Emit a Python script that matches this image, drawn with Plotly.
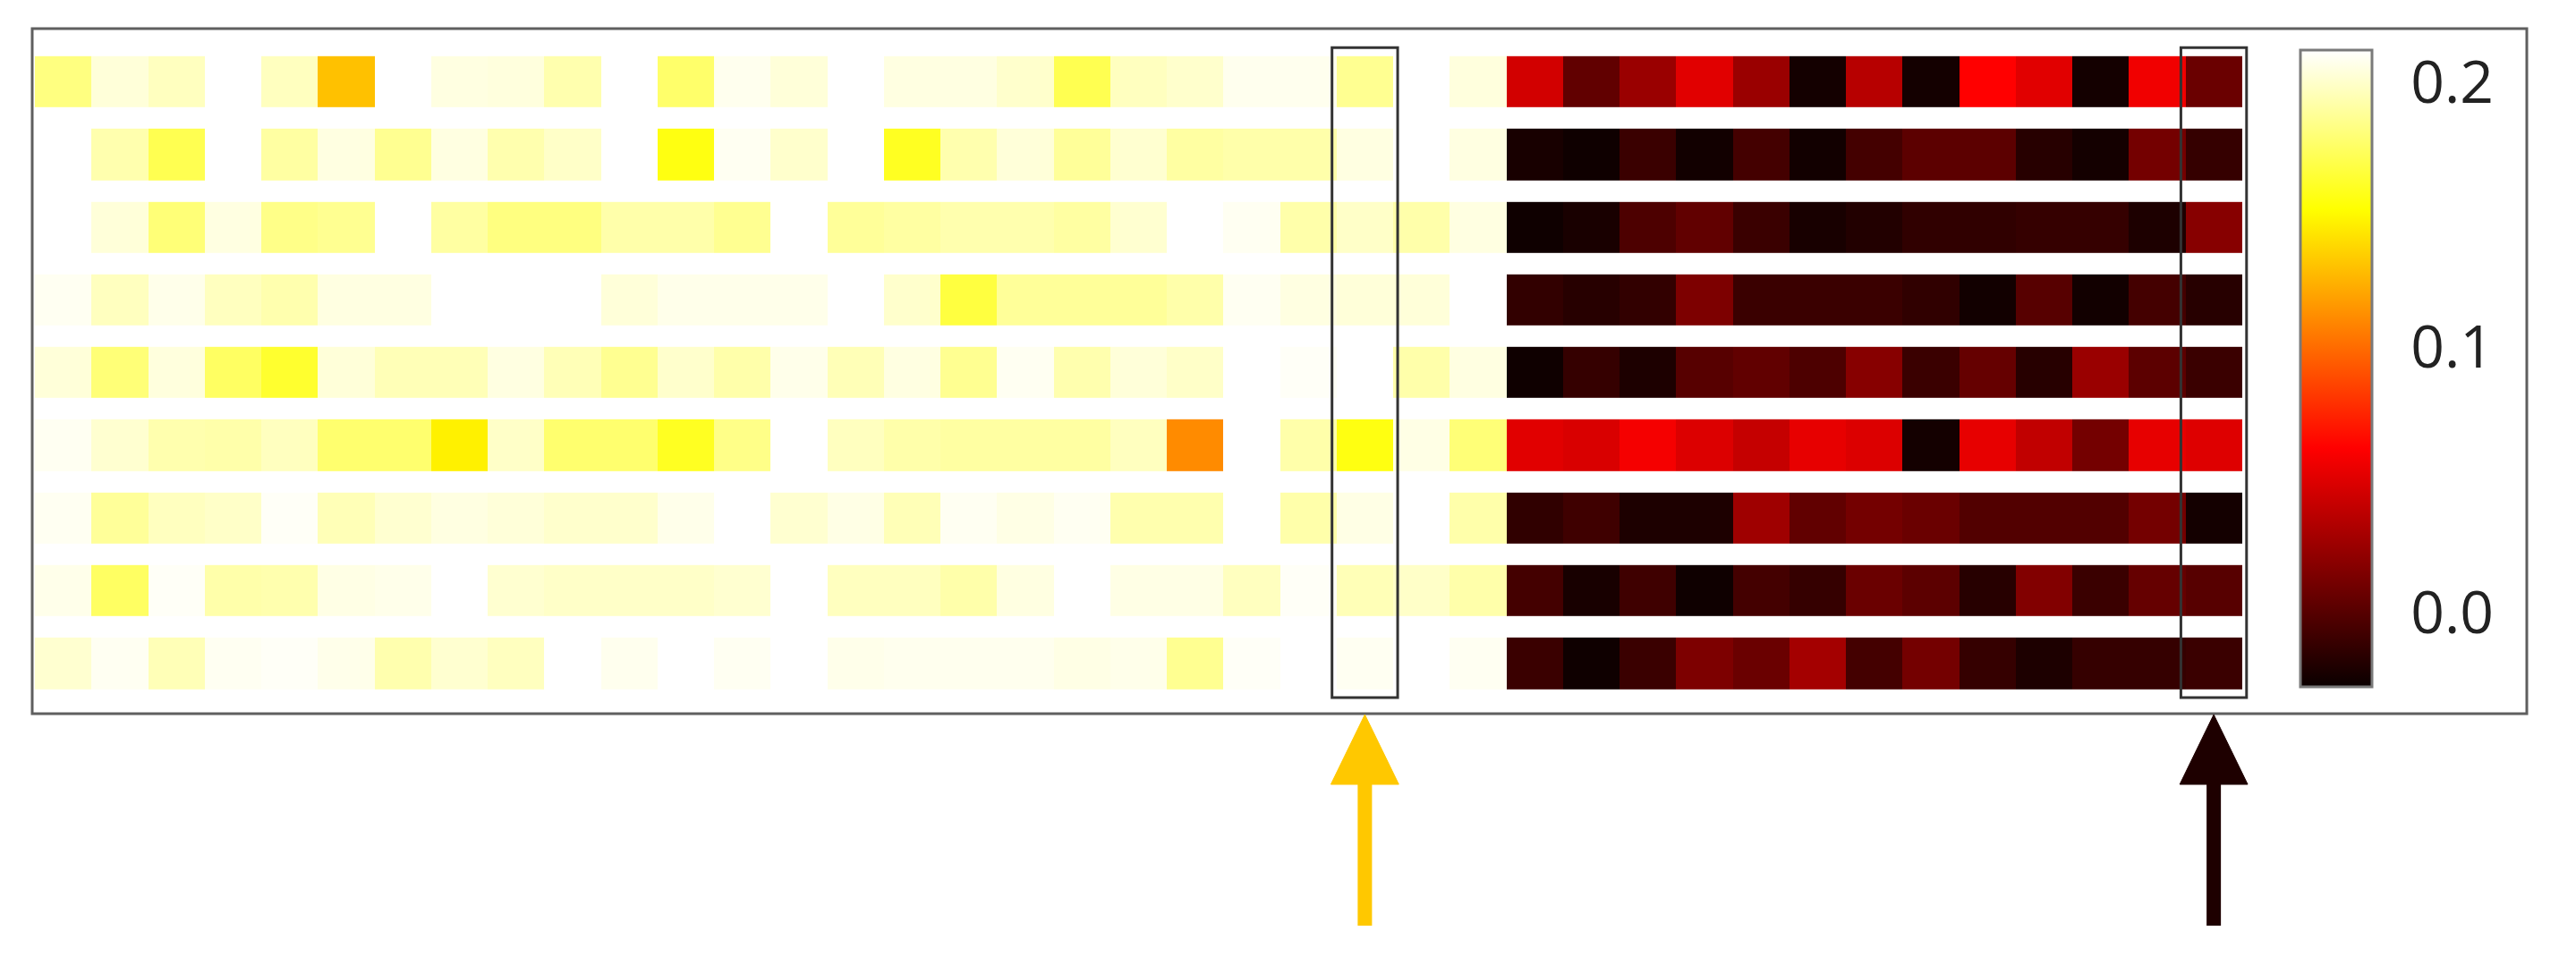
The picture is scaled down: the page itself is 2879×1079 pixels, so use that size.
import plotly.graph_objects as go

# ---------------- data ----------------
col_ids = list(range(39))          # 26 pale columns + 13 dark columns
row_ids = list(range(9))

r1 = [0.182, 0.203, 0.197, 0.212, 0.197, 0.130, 0.212, 0.205, 0.204, 0.193, 0.212, 0.177, 0.208,
      0.203, 0.212, 0.205, 0.205, 0.200, 0.171, 0.197, 0.200, 0.208, 0.208, 0.186, 0.212, 0.204,
      0.0454, 0.0038, 0.0249, 0.0511, 0.0249, -0.0245, 0.0355, -0.0245, 0.0620, 0.0511, -0.0245, 0.0567, 0.0073]
r2 = [0.212, 0.193, 0.171, 0.212, 0.190, 0.205, 0.186, 0.205, 0.193, 0.199, 0.212, 0.156, 0.209,
      0.200, 0.212, 0.160, 0.193, 0.203, 0.188, 0.201, 0.190, 0.192, 0.192, 0.205, 0.212, 0.205,
      -0.0227, -0.0262, -0.0104, -0.0252, -0.0068, -0.0252, -0.0068, 0.0020, 0.0020, -0.0174, -0.0245, 0.0108, -0.0121]
r3 = [0.212, 0.203, 0.180, 0.205, 0.184, 0.186, 0.212, 0.190, 0.182, 0.182, 0.192, 0.192, 0.186,
      0.212, 0.188, 0.190, 0.193, 0.193, 0.190, 0.201, 0.212, 0.209, 0.192, 0.199, 0.192, 0.205,
      -0.0262, -0.0224, -0.0033, 0.0038, -0.0104, -0.0227, -0.0192, -0.0139, -0.0139, -0.0121, -0.0121, -0.0209, 0.0179]
r4 = [0.209, 0.197, 0.207, 0.197, 0.193, 0.205, 0.205, 0.212, 0.212, 0.212, 0.203, 0.207, 0.207,
      0.207, 0.212, 0.200, 0.167, 0.188, 0.188, 0.188, 0.192, 0.209, 0.205, 0.203, 0.203, 0.212,
      -0.0132, -0.0174, -0.0132, 0.0144, -0.0104, -0.0104, -0.0104, -0.0139, -0.0252, 0.0002, -0.0252, -0.0068, -0.0174]
r5 = [0.203, 0.180, 0.204, 0.175, 0.163, 0.203, 0.195, 0.195, 0.205, 0.195, 0.186, 0.200, 0.192,
      0.207, 0.195, 0.205, 0.186, 0.209, 0.193, 0.203, 0.199, 0.212, 0.210, 0.212, 0.192, 0.205,
      -0.0262, -0.0121, -0.0209, 0.0002, 0.0038, -0.0033, 0.0179, -0.0104, 0.0055, -0.0174, 0.0249, 0.0020, -0.0104]
r6 = [0.209, 0.201, 0.193, 0.192, 0.197, 0.178, 0.178, 0.147, 0.199, 0.178, 0.178, 0.160, 0.184,
      0.212, 0.197, 0.192, 0.190, 0.190, 0.190, 0.197, 0.111, 0.212, 0.192, 0.156, 0.206, 0.180,
      0.0511, 0.0482, 0.0585, 0.0490, 0.0408, 0.0532, 0.0490, -0.0245, 0.0532, 0.0391, 0.0108, 0.0532, 0.0497]
r7 = [0.209, 0.188, 0.197, 0.199, 0.210, 0.195, 0.201, 0.205, 0.203, 0.200, 0.200, 0.207, 0.212,
      0.201, 0.206, 0.195, 0.209, 0.206, 0.209, 0.193, 0.193, 0.212, 0.192, 0.206, 0.212, 0.192,
      -0.0139, -0.0086, -0.0209, -0.0209, 0.0267, 0.0038, 0.0108, 0.0073, -0.0015, -0.0015, -0.0015, 0.0108, -0.0245]
r8 = [0.207, 0.175, 0.210, 0.192, 0.193, 0.206, 0.207, 0.212, 0.201, 0.199, 0.199, 0.199, 0.201,
      0.212, 0.197, 0.197, 0.192, 0.205, 0.212, 0.206, 0.206, 0.197, 0.210, 0.195, 0.199, 0.192,
      -0.0068, -0.0227, -0.0086, -0.0262, -0.0068, -0.0121, 0.0073, 0.0020, -0.0174, 0.0161, -0.0104, 0.0055, 0.0002]
r9 = [0.201, 0.209, 0.195, 0.209, 0.210, 0.207, 0.193, 0.201, 0.197, 0.212, 0.208, 0.212, 0.209,
      0.212, 0.207, 0.208, 0.208, 0.208, 0.206, 0.207, 0.186, 0.210, 0.212, 0.209, 0.212, 0.209,
      -0.0104, -0.0262, -0.0104, 0.0144, 0.0073, 0.0285, -0.0068, 0.0108, -0.0121, -0.0209, -0.0121, -0.0121, -0.0104]

z_min, z_max = -0.028, 0.212
tick_values = [0.0, 0.05, 0.1, 0.15, 0.2]
tick_labels = ["0.0", "", "0.1", "", "0.2"]

highlight_cols = [23, 38]
arrow_colors = ["#FFC800", "#1E0000"]

# ---------------- figure ----------------
W, H = 2879, 1079
CELL = 63.25           # pixel width of one column
X0 = 39                # pixel left edge of first column

def py(px):            # pixel row -> paper y
    return 1 - px / H

def pxx(px):           # pixel column -> paper x
    return px / W

hot = [[0.0, "rgb(10,0,0)"], [0.375, "rgb(255,0,0)"],
       [0.75, "rgb(255,255,0)"], [1.0, "rgb(255,255,255)"]]

# colorbar geometry (pixels)
CB_LEFT, CB_THICK, CB_TOP, CB_LEN = 2571, 80, 56, 712

fig = go.Figure(go.Heatmap(
    z=[r1, r2, r3, r4, r5, r6, r7, r8, r9],
    x=col_ids, y=row_ids,
    zmin=z_min, zmax=z_max, colorscale=hot,
    xgap=0, ygap=24,
    hoverinfo="skip",
    colorbar=dict(
        x=pxx(CB_LEFT), xanchor="left", xpad=0,
        y=py(CB_TOP + CB_LEN / 2), yanchor="middle", ypad=0,
        len=CB_LEN, lenmode="pixels",
        thickness=CB_THICK, thicknessmode="pixels",
        outlinewidth=3, outlinecolor="#7a7a7a",
        tickvals=tick_values, ticktext=tick_labels,
        ticks="outside", ticklen=29, tickcolor="rgba(0,0,0,0)",
        tickfont=dict(family="Open Sans", size=66, color="#222222"),
    ),
))

shapes = []
# outer frame
shapes.append(dict(type="rect", xref="paper", yref="paper",
                   x0=pxx(36), x1=pxx(2824), y0=py(798), y1=py(32),
                   line=dict(color="#5f5f5f", width=3), fillcolor="rgba(0,0,0,0)", layer="above"))
for c, colr in zip(highlight_cols, arrow_colors):
    # highlight box around the column
    shapes.append(dict(type="rect", xref="x", yref="y",
                       x0=c - 0.58, x1=c + 0.58, y0=-0.47, y1=8.47,
                       line=dict(color="#333333", width=3), fillcolor="rgba(0,0,0,0)", layer="above"))
    # arrow shaft
    shapes.append(dict(type="line", xref="x", yref="paper",
                       x0=c, x1=c, y0=py(1035), y1=py(872),
                       line=dict(color=colr, width=16)))
    # arrow head
    shapes.append(dict(type="path", xref="x", yref="paper",
                       path=f"M {c-0.6},{py(877)} L {c+0.6},{py(877)} L {c},{py(799)} Z",
                       fillcolor=colr, line=dict(color=colr, width=1)))

# small inside tick marks on the colorbar's right edge
for v in tick_values:
    ypix = CB_TOP + CB_LEN - (v - z_min) / (z_max - z_min) * CB_LEN
    shapes.append(dict(type="line", xref="paper", yref="paper",
                       x0=pxx(CB_LEFT + CB_THICK - 11), x1=pxx(CB_LEFT + CB_THICK),
                       y0=py(ypix), y1=py(ypix),
                       line=dict(color="#666666", width=2), layer="above"))

x_lo, x_hi = -0.55, 39.5
fig.update_layout(
    width=W, height=H,
    margin=dict(l=0, r=0, t=0, b=0),
    paper_bgcolor="white", plot_bgcolor="white",
    xaxis=dict(domain=[pxx(X0 + (x_lo + 0.5) * CELL), pxx(X0 + (x_hi + 0.5) * CELL)],
               range=[x_lo, x_hi],
               visible=False, showgrid=False, zeroline=False),
    yaxis=dict(domain=[py(782.4), py(50.8)], range=[8.5, -0.5],
               visible=False, showgrid=False, zeroline=False),
    shapes=shapes,
    showlegend=False,
)

fig.write_html("out.html", config={"displayModeBar": False},
               post_script="document.body.style.margin='0px';")
